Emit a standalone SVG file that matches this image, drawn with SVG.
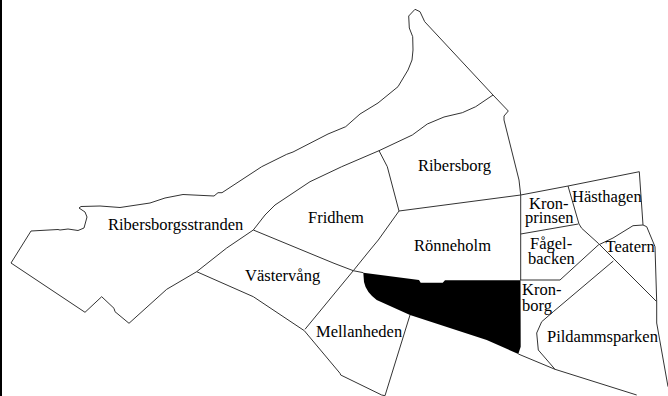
<svg xmlns="http://www.w3.org/2000/svg" width="668" height="396" viewBox="0 0 668 396">
<style>
.l{fill:none;stroke:#333;stroke-width:1;stroke-linejoin:round}
text{font-family:"Liberation Serif","Times New Roman",serif;font-size:16.5px;fill:#000}
</style>
<rect width="668" height="396" fill="#fff"/>
<rect x="0" y="0" width="2" height="396" fill="#000"/>
<g id="connectors">
<path class="l" d="M11 263L31 231L58 229.500L60 230L68 229L78 230.500L84 228L87 217L85 212L79 208L81 206.500L100 206L120 207.500L150 203L165 198L183 194.500L214 196L218 192.700L222 192.700L261.700 166.700L286.700 154.300L293 152L328 134L345.700 126.700L360 114L378 103L398 86.700L408 70L412 60L413 50L412.700 36.700L409.300 28L408.700 16L415 9.300L420 11.700L424.700 21.700L493 95L508.300 111L504 116L504 120L519 180L520.700 195"/>
<path class="l" d="M493 95L475.700 106.700L462.300 112.700L444 117L427.300 124L412.300 135L379 150.700L341.700 166.700L310 181.700L275 205L265 215L253.300 230L226.700 248L196.700 271.700L166.700 289.300L129 323.300L115 311.700L114 308.300L101.700 296.700L85 312.300L11 263"/>
<path class="l" d="M253.300 230L334 263.300L353.300 270.700L363.300 272.700"/>
<path class="l" d="M379 150.700L387.300 166.700L399 211L378.300 240L370 250L353.300 270.700L305 329.300"/>
<path class="l" d="M399 211L520.700 195L568 186L639.300 171.700L643 225L646.700 226.700L655 246.700L656.700 301.700L656.700 323L668 386.700"/>
<path class="l" d="M196.700 271.700L253.300 296.700L304.300 330.700L340 373.300L340.700 375L381.700 395L385 395.700L410 315"/>
<path class="l" d="M568 186L579 224L581.700 228.300L598.300 243.300L656.700 301.700"/>
<path class="l" d="M520.700 195L520.700 280"/>
<path class="l" d="M520.700 234L578.300 224"/>
<path class="l" d="M520 280L560 280L598.300 245L613 238L633 225.700L643 225"/>
<path class="l" d="M613.300 261L553.300 311.700L541.700 321.700L536.700 333L538.300 350L555 369.300"/>
<path class="l" d="M518.300 354L555 369.300L636.700 395"/>
</g>
<g id="filled-area">
<path fill="#000" d="M363.300 272.700L419 280L420.700 282.700L442.700 282.700L445 280.300L520.500 280.300L520.700 346.700L518.300 354L486.700 340L410 315L376.700 300Q366 292 364 282Z"/>
</g>
<g id="n-ribersborgsstranden"><text x="108" y="229.500">Ribersborgsstranden</text></g>
<g id="n-ribersborg"><text x="418" y="171">Ribersborg</text></g>
<g id="n-fridhem"><text x="308" y="223">Fridhem</text></g>
<g id="n-ronneholm"><text x="414" y="251">Rönneholm</text></g>
<g id="n-vastervang"><text x="245" y="281">Västervång</text></g>
<g id="n-mellanheden"><text x="316" y="336.500">Mellanheden</text></g>
<g id="n-kronprinsen"><text x="529" y="208.500">Kron-</text><text x="525" y="223">prinsen</text></g>
<g id="n-hasthagen"><text x="572" y="202">Hästhagen</text></g>
<g id="n-fagelbacken"><text x="530" y="248.500">Fågel-</text><text x="528" y="264">backen</text></g>
<g id="n-teatern"><text x="605.500" y="252">Teatern</text></g>
<g id="n-kronborg"><text x="522" y="295">Kron-</text><text x="522" y="311">borg</text></g>
<g id="n-pildammsparken"><text x="547" y="342">Pildammsparken</text></g>
</svg>
